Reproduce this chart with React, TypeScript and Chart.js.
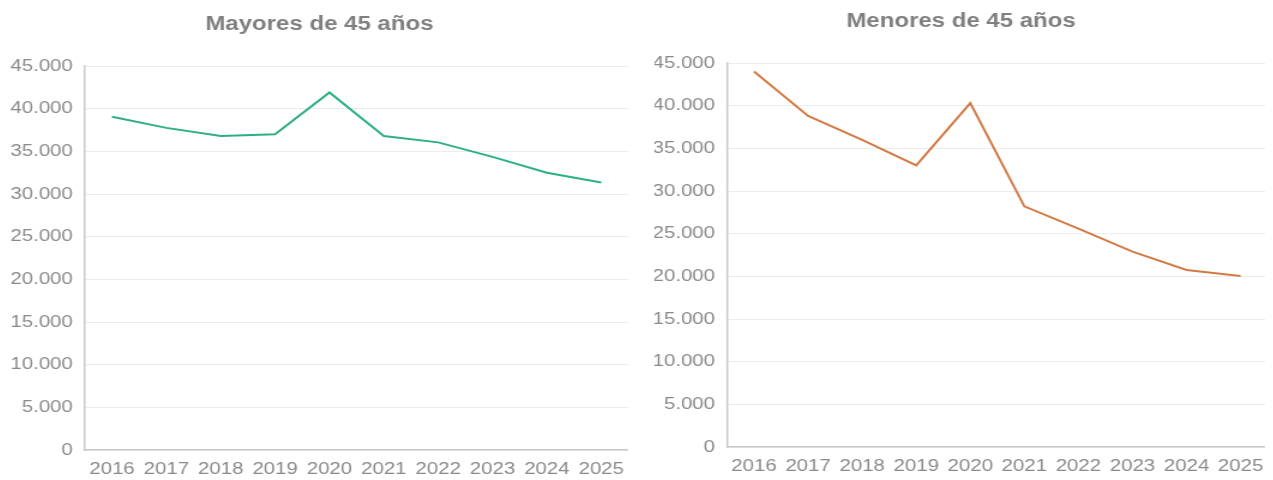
import React, { useEffect, useRef } from "react";
import { Chart, registerables } from "chart.js";

Chart.register(...registerables);

const years = ["2016", "2017", "2018", "2019", "2020", "2021", "2022", "2023", "2024", "2025"];
const mayores = [39050, 37750, 36800, 37000, 41900, 36800, 36050, 34350, 32500, 31350];
const menores = [44000, 38800, 36000, 33000, 40300, 28200, 25600, 22900, 20750, 20050];
const yTicks = [0, 5000, 10000, 15000, 20000, 25000, 30000, 35000, 40000, 45000];

const fmt = (v: number) => (v === 0 ? "0" : v.toLocaleString("de-DE"));

const STRETCH = 1.2;
const FONT = "'Liberation Sans', Arial, sans-serif";

function LineChart(props: {
  title: string;
  data: number[];
  color: string;
  width: number;
  height: number;
  yWidth: number;
}) {
  const ref = useRef<HTMLCanvasElement | null>(null);
  useEffect(() => {
    if (!ref.current) return;
    const chart = new Chart(ref.current, {
      type: "line",
      data: {
        labels: years,
        datasets: [
          {
            data: props.data,
            borderColor: props.color,
            backgroundColor: props.color,
            borderWidth: 2,
            pointRadius: 0,
            tension: 0,
            fill: false,
          },
        ],
      },
      options: {
        animation: false,
        responsive: false,
        devicePixelRatio: 1,
        layout: { padding: { left: 2, right: 0, top: 0, bottom: 0 } },
        plugins: {
          legend: { display: false },
          tooltip: { enabled: false },
          title: {
            display: true,
            text: props.title,
            color: "#7f7f7f",
            font: { family: FONT, size: 20, weight: "bold" },
            padding: { top: 4.5, bottom: 29.5 },
          },
        },
        scales: {
          x: {
            offset: true,
            grid: { display: false, drawTicks: false },
            border: { display: true, color: "#c9c9c9", width: 1.5 },
            ticks: {
              color: "#8a8a8a",
              padding: 9,
              maxRotation: 0,
              autoSkip: false,
              font: { family: FONT, size: 17 },
            },
            afterFit: (axis: any) => {
              axis.height = 30;
              axis.paddingLeft = 0;
              axis.paddingRight = 0;
            },
          },
          y: {
            min: 0,
            max: 45000,
            afterBuildTicks: (axis: any) => {
              axis.ticks = yTicks.map((v) => ({ value: v }));
            },
            grid: { color: "#ececec", lineWidth: 1, drawTicks: false },
            border: { display: true, color: "#c9c9c9", width: 1.5 },
            ticks: {
              color: "#8a8a8a",
              padding: 10,
              font: { family: FONT, size: 17 },
              callback: (v: any) => fmt(Number(v)),
            },
            afterFit: (axis: any) => {
              axis.width = props.yWidth;
              axis.paddingTop = 0;
              axis.paddingBottom = 0;
            },
          },
        },
      },
    });
    return () => chart.destroy();
  }, []);
  return (
    <div
      style={{
        width: props.width,
        height: props.height,
        transform: `scaleX(${STRETCH})`,
        transformOrigin: "left top",
      }}
    >
      <canvas ref={ref} width={props.width} height={props.height} />
    </div>
  );
}

export default function App() {
  return (
    <div style={{ position: "relative", width: 1257, height: 472 }}>
      <div style={{ position: "absolute", left: 0, top: 0 }}>
        <LineChart title="Mayores de 45 años" data={mayores} color="#2cb082" width={517} height={472} yWidth={62} />
      </div>
      <div style={{ position: "absolute", left: 644, top: -3 }}>
        <LineChart title="Menores de 45 años" data={menores} color="#d27a45" width={513} height={472} yWidth={60.5} />
      </div>
    </div>
  );
}
